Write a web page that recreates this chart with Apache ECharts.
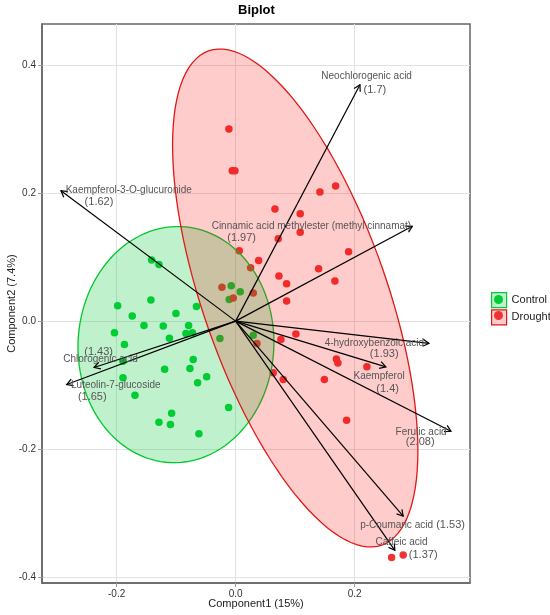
<!DOCTYPE html>
<html>
<head>
<meta charset="utf-8">
<script src="https://cdn.jsdelivr.net/npm/echarts@6/dist/echarts.min.js"></script>
<style>
  html, body { margin: 0; padding: 0; background: #fff; }
  #chart { width: 550px; height: 615px; }
</style>
</head>
<body>
<div id="chart"></div>
<script>
// scores on the first two components, one pair per sample
const controlScores = [
  [-0.1412, 0.0953], [-0.1289, 0.0886], [-0.1983, 0.0239], [-0.1424, 0.0328],
  [-0.1738, 0.0078], [-0.1541, -0.0067], [-0.1217, -0.0078], [-0.1003, 0.0120],
  [-0.0790, -0.0067], [-0.0659, 0.0227], [-0.2037, -0.0183], [-0.1113, -0.0266],
  [-0.0835, -0.0195], [-0.0726, -0.0180], [-0.1869, -0.0364], [-0.1894, -0.0625],
  [-0.1894, -0.0886], [-0.1692, -0.1156], [-0.1193, -0.0750], [-0.0713, -0.0598],
  [-0.0768, -0.0739], [-0.0639, -0.0964], [-0.0487, -0.0870], [-0.1076, -0.1438],
  [-0.1289, -0.1578], [-0.1096, -0.1614], [-0.0617, -0.1758], [-0.0118, -0.1348],
  [-0.0264, -0.0270], [-0.0074, 0.0552], [0.0077, 0.0458], [-0.0108, 0.0339],
  [0.0296, -0.0219]
]
const droughtScores = [
  [-0.0113, 0.3000], [-0.0057, 0.2348], [-0.0012, 0.2348], [0.1417, 0.2016],
  [0.1681, 0.2109], [0.0661, 0.1750], [0.1086, 0.1677], [0.0716, 0.1286],
  [0.1086, 0.1386], [0.1899, 0.1083], [0.1395, 0.0817], [0.0728, 0.0703],
  [0.0857, 0.0583], [0.1669, 0.0625], [0.0857, 0.0313], [0.0061, 0.1098],
  [0.0387, 0.0948], [0.0252, 0.0833], [-0.0230, 0.0527], [0.0296, 0.0438],
  [-0.0040, 0.0359], [0.0358, -0.0348], [0.0761, -0.0286], [0.1013, -0.0203],
  [0.1694, -0.0591], [0.1719, -0.0656], [0.2207, -0.0714], [0.0632, -0.0808],
  [0.0800, -0.0911], [0.1492, -0.0911], [0.1866, -0.1547], [0.2622, -0.3692],
  [0.2817, -0.3652]
]

// loadings (arrows) and the number printed under each name
const loadingNames = [
  'Neochlorogenic acid', 'Cinnamic acid methylester (methyl cinnamat)',
  'Kaempferol-3-O-glucuronide', 'Chlorogenic acid', 'Luteolin-7-glucoside',
  '4-hydroxybenzoic acid', 'Kaempferol', 'Ferulic acid', 'p-Coumaric acid', 'Caffeic acid'
]
const loadingValues = ['1.7', '1.97', '1.62', '1.43', '1.65', '1.93', '1.4', '2.08', '1.53', '1.37']
const loadings = [
  [0.209, 0.369], [0.297, 0.148], [-0.2936, 0.2036], [-0.238, -0.0724], [-0.284, -0.099],
  [0.325, -0.0349], [0.2526, -0.0714], [0.362, -0.172], [0.2817, -0.3047], [0.2677, -0.358]
]

// tick marks
const xTicks = [-0.2, 0, 0.2]
const yTicks = [-0.4, -0.2, 0, 0.2, 0.4]

// where the repelled labels ended up (data units)
const nameAt = [
  [0.2202, 0.3817], [0.1274, 0.1484], [-0.1797, 0.2036], [-0.2272, -0.0602], [-0.2015, -0.1005],
  [0.2333, -0.0348], [0.2412, -0.0855], [0.3118, -0.1730], [0.2706, -0.3188], [0.2790, -0.3448]
]
const valueAt = [
  [0.2341, 0.3609], [0.0101, 0.1292], [-0.2297, 0.1864], [-0.2303, -0.0480], [-0.2410, -0.1183],
  [0.2498, -0.0520], [0.2555, -0.1063], [0.3103, -0.1895], [0.3613, -0.3188], [0.3153, -0.3645]
]

// confidence ellipses: centre x, centre y, half width, half height, xy term
const controlEllipse = [-0.1003, -0.0367, 0.1647, 0.1844, 0.0006]
const droughtEllipse = [0.1002, 0.0361, 0.2062, 0.3888, -0.0492]

const FONT = 'Liberation Sans, Arial, sans-serif'
const GREEN = '#00cc33'
const RED = '#ee3535'

function ellipseOutline(e) {
  const [cx, cy, wx, wy, cxy] = e
  const k = cxy / wx
  const r = Math.sqrt(wy * wy - k * k)
  const pts = []
  for (let i = 0; i <= 120; i++) {
    const t = i / 120 * Math.PI * 2
    pts.push([cx + wx * Math.cos(t), cy + k * Math.cos(t) + r * Math.sin(t)])
  }
  return pts
}

function ellipseSeries(e, stroke, fill) {
  const outline = ellipseOutline(e)
  return {
    type: 'custom',
    silent: true,
    z: 3,
    data: [0],
    renderItem: (params, api) => ({
      type: 'polygon',
      shape: { points: outline.map(p => api.coord(p)) },
      style: { fill: fill, stroke: stroke, lineWidth: 1.3 }
    })
  }
}

const labelData = []
loadingNames.forEach((n, i) => {
  labelData.push([nameAt[i][0], nameAt[i][1], n, 10])
  labelData.push([valueAt[i][0], valueAt[i][1], '(' + loadingValues[i] + ')', 11])
})

const tickFmt = v => v.toFixed(1)

function axisCommon(ticks) {
  return {
    type: 'value',
    nameLocation: 'middle',
    nameMoveOverlap: false,
    nameTextStyle: { fontFamily: FONT, fontSize: 11, color: '#222' },
    axisLine: { onZero: false, lineStyle: { color: '#666', width: 1.5 } },
    axisTick: { show: true, length: 4, customValues: ticks, lineStyle: { color: '#999' } },
    axisLabel: { customValues: ticks, formatter: tickFmt, fontFamily: FONT, fontSize: 10, color: '#333', margin: 6 },
    splitLine: { lineStyle: { color: '#e2e2e2', width: 1 } }
  }
}

const chart = echarts.init(document.getElementById('chart'))
chart.setOption({
  animation: false,
  backgroundColor: '#fff',
  title: {
    text: 'Biplot',
    left: 238,
    top: 4,
    padding: 0,
    textStyle: { fontFamily: FONT, fontSize: 13, fontWeight: 'bold', color: '#000' }
  },
  grid: {
    left: 42, right: 80, top: 24, bottom: 32,
    containLabel: false,
    outerBoundsMode: 'none',
    show: true,
    borderColor: '#666',
    borderWidth: 1.5
  },
  legend: [
    {
      orient: 'vertical',
      left: 486, top: 287,
      itemWidth: 15, itemHeight: 15, itemGap: 1,
      selectedMode: false,
      textStyle: { fontFamily: FONT, fontSize: 11, color: '#222' },
      data: [
        { name: 'Control', icon: 'rect', itemStyle: { color: 'rgba(0,204,51,0.25)', borderColor: GREEN, borderWidth: 1.2 } },
        { name: 'Drought', icon: 'rect', itemStyle: { color: 'rgba(255,0,0,0.2)', borderColor: '#e01818', borderWidth: 1.2 } }
      ]
    },
    {
      orient: 'vertical',
      left: 489, top: 290,
      itemWidth: 9, itemHeight: 9, itemGap: 7,
      selectedMode: false,
      icon: 'circle',
      textStyle: { fontSize: 6, color: 'rgba(0,0,0,0)' },
      data: ['Control', 'Drought']
    }
  ],
  xAxis: Object.assign(axisCommon(xTicks), {
    min: -0.3255, max: 0.394,
    splitNumber: 4,
    name: 'Component1 (15%)',
    nameGap: 15
  }),
  yAxis: Object.assign(axisCommon(yTicks), {
    min: -0.409, max: 0.464,
    splitNumber: 5,
    name: 'Component2 (7.4%)',
    nameGap: 25
  }),
  series: [
    {
      name: 'Control', type: 'scatter', z: 2,
      symbolSize: 7.5,
      itemStyle: { color: GREEN, opacity: 1 },
      data: controlScores
    },
    {
      name: 'Drought', type: 'scatter', z: 2,
      symbolSize: 7.5,
      itemStyle: { color: RED, opacity: 1 },
      data: droughtScores
    },
    ellipseSeries(controlEllipse, '#00c830', 'rgba(0,204,51,0.25)'),
    ellipseSeries(droughtEllipse, '#e01818', 'rgba(255,0,0,0.2)'),
    {
      type: 'custom',
      silent: true,
      z: 4,
      data: loadings,
      renderItem: (params, api) => {
        const o = api.coord([0, 0])
        const p = api.coord([api.value(0), api.value(1)])
        const ang = Math.atan2(p[1] - o[1], p[0] - o[0])
        const len = 7, spread = Math.PI / 6
        const a1 = [p[0] - len * Math.cos(ang - spread), p[1] - len * Math.sin(ang - spread)]
        const a2 = [p[0] - len * Math.cos(ang + spread), p[1] - len * Math.sin(ang + spread)]
        return {
          type: 'group',
          children: [
            { type: 'line', shape: { x1: o[0], y1: o[1], x2: p[0], y2: p[1] }, style: { stroke: '#000', lineWidth: 1.2 } },
            { type: 'polyline', shape: { points: [a1, p, a2] }, style: { stroke: '#000', fill: null, lineWidth: 1.2 } }
          ]
        }
      }
    },
    {
      type: 'custom',
      silent: true,
      z: 5,
      data: labelData,
      renderItem: (params, api) => {
        const d = labelData[params.dataIndex]
        const p = api.coord([d[0], d[1]])
        return {
          type: 'text',
          x: p[0], y: p[1],
          style: {
            text: d[2], fill: '#555', fontSize: d[3], fontFamily: FONT,
            align: 'center', verticalAlign: 'middle'
          }
        }
      }
    }
  ]
})
</script>
</body>
</html>
